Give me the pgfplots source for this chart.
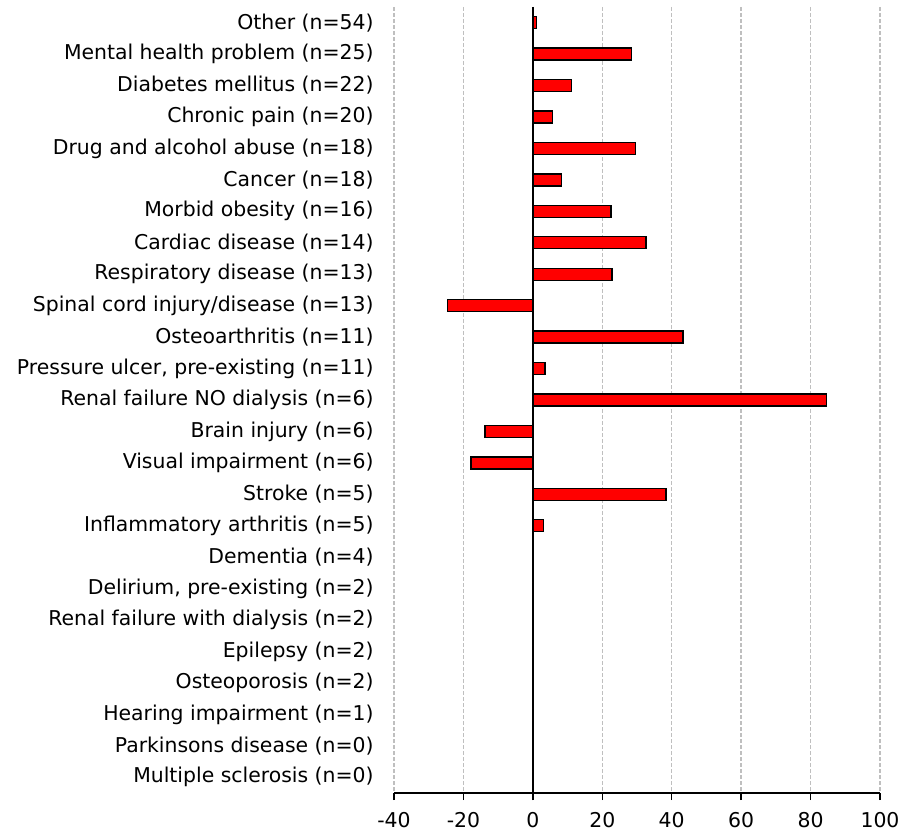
\documentclass[border=0pt]{standalone}
\usepackage{fontspec}
\setmainfont{DejaVu Sans}
\usepackage{pgfplots}
\pgfplotsset{compat=1.18}
\begin{document}
\begin{tikzpicture}
\begin{axis}[
  scale only axis,
  width=243pt, height=393pt,
  xbar, bar width=6pt,
  xmin=-40, xmax=100,
  ymin=-0.5, ymax=24.5,
  y dir=reverse,
  xtick={-40,-20,0,20,40,60,80,100},
  ytick={0,...,24},
  yticklabels={
    Other (n=54),
    Mental health problem (n=25),
    Diabetes mellitus (n=22),
    Chronic pain (n=20),
    Drug and alcohol abuse (n=18),
    Cancer (n=18),
    Morbid obesity (n=16),
    Cardiac disease (n=14),
    Respiratory disease (n=13),
    Spinal cord injury/disease (n=13),
    Osteoarthritis (n=11),
    {Pressure ulcer, pre-existing (n=11)},
    Renal failure NO dialysis (n=6),
    Brain injury (n=6),
    Visual impairment (n=6),
    Stroke (n=5),
    Inflammatory arthritis (n=5),
    Dementia (n=4),
    {Delirium, pre-existing (n=2)},
    Renal failure with dialysis (n=2),
    Epilepsy (n=2),
    Osteoporosis (n=2),
    Hearing impairment (n=1),
    Parkinsons disease (n=0),
    Multiple sclerosis (n=0)},
  axis x line*=bottom,
  axis y line*=left,
  x axis line style={-, line width=0.75pt, black},
  y axis line style={draw=none},
  ytick style={draw=none},
  xtick style={black, line width=0.75pt},
  xtick align=outside,
  major tick length=3.5pt,
  xmajorgrids=true,
  major grid style={draw=black!25, line width=0.65pt, dash pattern=on 1.8pt off 1.2pt},
  extra x ticks={0},
  extra x tick labels={},
  extra x tick style={grid=major, major grid style={draw=black, solid, line width=0.8pt}},
  /pgf/number format/assume math mode=true,
  ticklabel style={font=\fontsize{10.2}{12}\selectfont},
  yticklabel style={inner sep=0pt, xshift=-6.5pt},
  xticklabel style={inner sep=0pt, yshift=-6pt},
  clip=false,
]
\addplot[fill=red, draw=black, line width=0.7pt] coordinates {
  (1.1,0) (28.5,1) (11.1,2) (5.6,3) (29.6,4) (8.2,5) (22.5,6) (32.6,7)
  (22.8,8) (-24.6,9) (43.3,10) (3.5,11) (84.6,12) (-13.8,13) (-17.8,14)
  (38.3,15) (3.0,16) (0,17) (0,18) (0,19) (0,20) (0,21) (0,22) (0,23) (0,24)
};
\end{axis}
\path (current axis.south west) ++(-197pt,-19.5pt);
\path (current axis.north east) ++(19pt,3.5pt);
\end{tikzpicture}
\end{document}
